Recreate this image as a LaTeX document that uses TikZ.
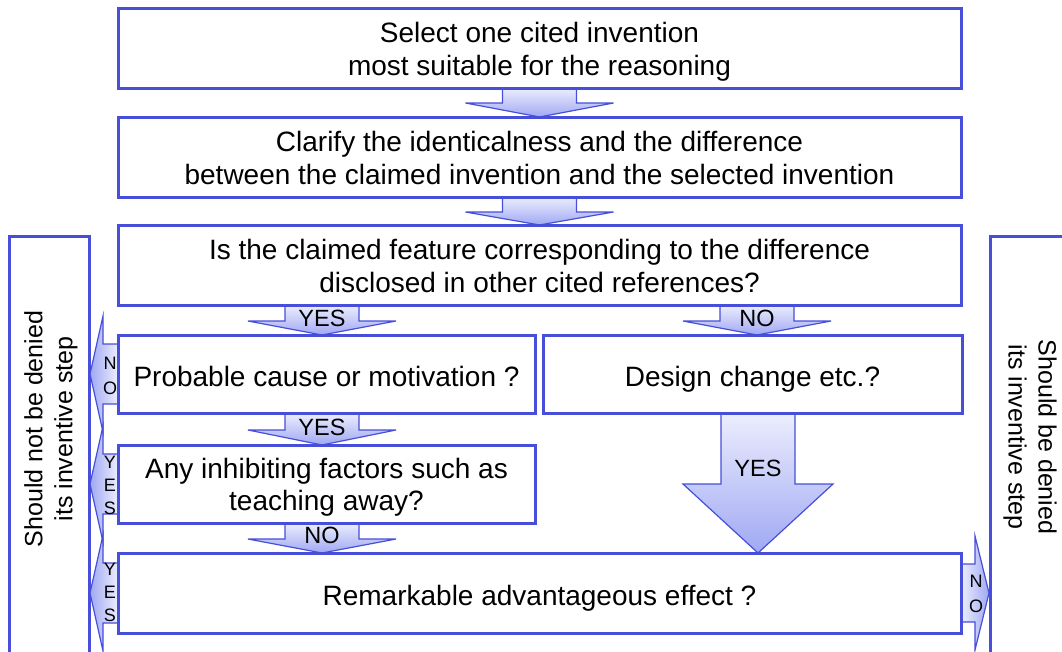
\documentclass[tikz,border=0pt]{standalone}
\usepackage{fontspec}
\setmainfont{Liberation Sans}
\usetikzlibrary{calc}

\definecolor{edge}{RGB}{70,78,218}
\definecolor{arrlight}{RGB}{236,238,253}
\definecolor{arrdark}{RGB}{160,168,243}

\tikzset{
  box/.style={draw=edge, line width=3pt, inner sep=0pt, outer sep=0pt},
  boxtext/.style={inner sep=0pt, anchor=base, font=\fontsize{28}{32}\selectfont},
  sidebox/.style={draw=edge, line width=3pt, inner sep=0pt, outer sep=0pt},
  sidelabel/.style={align=center, inner sep=0pt, font=\fontsize{25}{30}\selectfont},
  arrowlabel/.style={inner sep=0pt, font=\fontsize{23.5}{26}\selectfont},
  letters/.style={align=center, inner sep=0pt, font=\fontsize{18}{25}\selectfont},
  blockarrow/.style={draw=edge, line width=1.2pt},
  % block arrow pointing down: #1 base of head, #2 tip, #3 half shaft, #4 half head
  pics/downarrow/.style n args={4}{code={
    \path[blockarrow, top color=arrlight, bottom color=arrdark]
      (-#3,0) -- (#3,0) -- (#3,#1) -- (#4,#1) -- (0,#2) -- (-#4,#1) -- (-#3,#1) -- cycle;}},
  % block arrow pointing left
  pics/leftarrow/.style n args={4}{code={
    \path[blockarrow, left color=arrdark, right color=arrlight]
      (0,-#3) -- (0,#3) -- (-#1,#3) -- (-#1,#4) -- (-#2,0) -- (-#1,-#4) -- (-#1,-#3) -- cycle;}},
  % block arrow pointing right
  pics/rightarrow/.style n args={4}{code={
    \path[blockarrow, left color=arrlight, right color=arrdark]
      (0,-#3) -- (0,#3) -- (#1,#3) -- (#1,#4) -- (#2,0) -- (#1,-#4) -- (#1,-#3) -- cycle;}},
}

\begin{document}
\begin{tikzpicture}[x=1pt, y=-1pt]
\useasboundingbox (0,0) rectangle (1062,651);
\clip (0,0) rectangle (1062,651);

% outer conclusion frames
\node[sidebox, anchor=north west, minimum width=80, minimum height=440] (notdenied) at (9,236) {};
\node[sidebox, anchor=north west, minimum width=120, minimum height=440] (denied) at (990,236) {};
\node[sidelabel, rotate=90] (notdeniedtext) at (51,429) {Should not be denied\\its inventive step};
\node[sidelabel, rotate=-90] (deniedtext) at (1030,437) {Should be denied\\its inventive step};

% frames of the main steps (placed first so the arrows can refer to them)
\path
  node[minimum width=843, minimum height=80, inner sep=0pt, outer sep=0pt] (b1) at (539.5,48) {}
  node[minimum width=843, minimum height=80, inner sep=0pt, outer sep=0pt] (b2) at (539.5,157) {}
  node[minimum width=843, minimum height=80, inner sep=0pt, outer sep=0pt] (b3) at (539.5,265) {}
  node[minimum width=417, minimum height=78, inner sep=0pt, outer sep=0pt] (p) at (326.5,374) {}
  node[minimum width=419, minimum height=78, inner sep=0pt, outer sep=0pt] (d) at (752.5,374) {}
  node[minimum width=417, minimum height=78, inner sep=0pt, outer sep=0pt] (i) at (326.5,484) {}
  node[minimum width=843, minimum height=80, inner sep=0pt, outer sep=0pt] (r) at (539.5,593) {};

% downward block arrows
\pic at (b1.south) {downarrow={15}{29}{37}{74}};
\pic at (b2.south) {downarrow={15}{28}{37}{74}};
\coordinate (yes1) at ($(b3.south -| p.north)+(-4.5,0)$);
\pic at (yes1) {downarrow={16}{30}{37}{74}};
\coordinate (no1) at ($(b3.south -| d.north)+(4.5,0)$);
\pic at (no1) {downarrow={16}{30}{37}{74}};
\coordinate (yes2) at ($(p.south)+(-4.5,0)$);
\pic at (yes2) {downarrow={17}{32}{37}{74}};
\coordinate (no2) at ($(yes2 |- i.south)$);
\pic at (no2) {downarrow={16}{30}{37}{74}};
\coordinate (yes3) at ($(d.south)+(5.5,0)$);
\pic at (yes3) {downarrow={71}{140}{37}{75}};

% sideways block arrows
\pic at (p.west) {leftarrow={15}{28}{30}{58}};
\pic at (i.west) {leftarrow={15}{28}{30}{58}};
\pic at (r.west) {leftarrow={15}{28}{30}{58}};
\pic at (r.east) {rightarrow={14}{28}{29}{57}};

% box outlines over the arrow ends
\foreach \n in {b1,b2,b3,p,d,i,r}
  \draw[box] (\n.north west) rectangle (\n.south east);

% step texts, one node per line, set on their baselines
\node[boxtext] (t1a) at ($(b1.north)+(0,34)$) {Select one cited invention};
\node[boxtext] (t1b) at ($(b1.north)+(0,67)$) {most suitable for the reasoning};
\node[boxtext] (t2a) at ($(b2.north)+(0,34)$) {Clarify the identicalness and the difference};
\node[boxtext] (t2b) at ($(b2.north)+(0,67)$) {between the claimed invention and the selected invention};
\node[boxtext] (t3a) at ($(b3.north)+(0,34)$) {Is the claimed feature corresponding to the difference};
\node[boxtext] (t3b) at ($(b3.north)+(0,67)$) {disclosed in other cited references?};
\node[boxtext] (tp) at ($(p.center)+(0,12)$) {Probable cause or motivation ?};
\node[boxtext] (td) at ($(d.center)+(0,12)$) {Design change etc.?};
\node[boxtext] (tia) at ($(i.north)+(0,33)$) {Any inhibiting factors such as};
\node[boxtext] (tib) at ($(i.north)+(0,65)$) {teaching away?};
\node[boxtext] (tr) at ($(r.center)+(0,12)$) {Remarkable advantageous effect ?};

% arrow labels
\node[arrowlabel] (lyes1) at ($(yes1)+(0,13.5)$) {YES};
\node[arrowlabel] (lno1) at ($(no1)+(0,13.5)$) {NO};
\node[arrowlabel] (lyes2) at ($(yes2)+(0,14.5)$) {YES};
\node[arrowlabel] (lno2) at ($(no2)+(0,12.5)$) {NO};
\node[arrowlabel] (lyes3) at ($(yes3)+(0,55)$) {YES};
\node[letters] (lnoleft) at ($(p.west)+(-8,2)$) {N\\O};
\node[letters, font=\fontsize{18}{23}\selectfont] (lyesleft1) at ($(i.west)+(-8,1)$) {Y\\E\\S};
\node[letters, font=\fontsize{18}{23}\selectfont] (lyesleft2) at ($(r.west)+(-8,-1)$) {Y\\E\\S};
\node[letters] (lnoright) at ($(r.east)+(15,1)$) {N\\O};
\end{tikzpicture}
\end{document}
